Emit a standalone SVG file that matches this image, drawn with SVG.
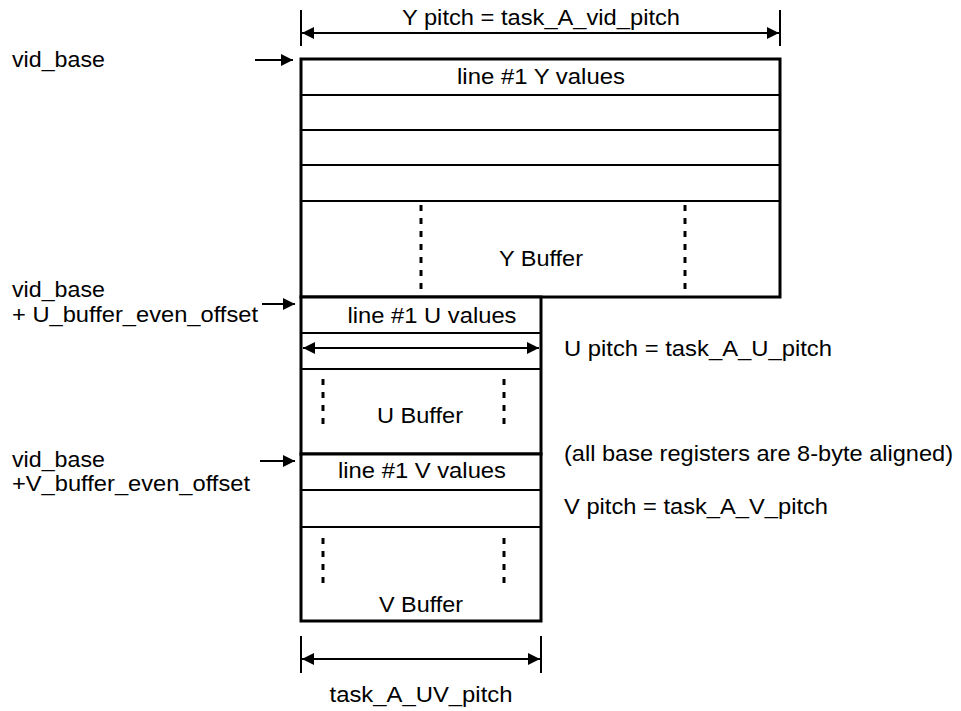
<svg xmlns="http://www.w3.org/2000/svg" width="961" height="711" viewBox="0 0 961 711">
<defs>
<marker id="ah" viewBox="0 0 10 10" refX="10" refY="5" markerWidth="14" markerHeight="12" markerUnits="userSpaceOnUse" orient="auto-start-reverse">
<path d="M0,0 L10,5 L0,10 z" fill="#000"/>
</marker>
<style>
text{font-family:"Liberation Sans",Arial,sans-serif;font-size:22px;fill:#000}
.m{text-anchor:middle}
.box{fill:#fff;stroke:#000;stroke-width:3}
.row{stroke:#000;stroke-width:2;fill:none}
.dot{stroke:#000;stroke-width:3;stroke-dasharray:6 7;fill:none}
.arr{stroke:#000;stroke-width:2;fill:none}
.tick{stroke:#000;stroke-width:2;fill:none}
</style>
</defs>
<rect width="961" height="711" fill="#fff"/>
<g id="ybuffer">
<rect class="box" x="301" y="59" width="479" height="238"/>
<line class="row" x1="301" y1="95" x2="780" y2="95"/>
<line class="row" x1="301" y1="130" x2="780" y2="130"/>
<line class="row" x1="301" y1="165" x2="780" y2="165"/>
<line class="row" x1="301" y1="201" x2="780" y2="201"/>
<line class="dot" x1="421" y1="205" x2="421" y2="292"/>
<line class="dot" x1="685" y1="205" x2="685" y2="292"/>
<text class="m" x="541" y="84" textLength="168" lengthAdjust="spacingAndGlyphs">line #1 Y values</text>
<text class="m" x="541" y="266" textLength="84" lengthAdjust="spacingAndGlyphs">Y Buffer</text>
</g>
<g id="ubuffer">
<rect class="box" x="301" y="297" width="240" height="157"/>
<line class="row" x1="301" y1="333" x2="541" y2="333"/>
<line class="row" x1="301" y1="369" x2="541" y2="369"/>
<line class="dot" x1="323" y1="379" x2="323" y2="426"/>
<line class="dot" x1="504" y1="379" x2="504" y2="426"/>
<text class="m" x="432" y="323" textLength="169" lengthAdjust="spacingAndGlyphs">line #1 U values</text>
<text class="m" x="420" y="423" textLength="86" lengthAdjust="spacingAndGlyphs">U Buffer</text>
</g>
<g id="vbuffer">
<rect class="box" x="301" y="454" width="240" height="167"/>
<line class="row" x1="301" y1="490" x2="541" y2="490"/>
<line class="row" x1="301" y1="527" x2="541" y2="527"/>
<line class="dot" x1="323" y1="538" x2="323" y2="587"/>
<line class="dot" x1="504" y1="538" x2="504" y2="587"/>
<text class="m" x="422" y="478" textLength="168" lengthAdjust="spacingAndGlyphs">line #1 V values</text>
<text class="m" x="421" y="612" textLength="84" lengthAdjust="spacingAndGlyphs">V Buffer</text>
</g>
<g id="labels">
<text x="12" y="67" textLength="93" lengthAdjust="spacingAndGlyphs">vid_base</text>
<text x="12" y="297" textLength="93" lengthAdjust="spacingAndGlyphs">vid_base</text>
<text x="12" y="322" textLength="246" lengthAdjust="spacingAndGlyphs">+ U_buffer_even_offset</text>
<text x="12" y="467" textLength="93" lengthAdjust="spacingAndGlyphs">vid_base</text>
<text x="12" y="491" textLength="238" lengthAdjust="spacingAndGlyphs">+V_buffer_even_offset</text>
<text class="m" x="541" y="25" textLength="278" lengthAdjust="spacingAndGlyphs">Y pitch = task_A_vid_pitch</text>
<text x="564" y="356" textLength="268" lengthAdjust="spacingAndGlyphs">U pitch = task_A_U_pitch</text>
<text x="564" y="461" textLength="389" lengthAdjust="spacingAndGlyphs">(all base registers are 8-byte aligned)</text>
<text x="564" y="514" textLength="264" lengthAdjust="spacingAndGlyphs">V pitch = task_A_V_pitch</text>
<text class="m" x="421" y="702" textLength="183" lengthAdjust="spacingAndGlyphs">task_A_UV_pitch</text>
</g>
<g id="connectors">
<line class="tick" x1="301" y1="10" x2="301" y2="46"/>
<line class="tick" x1="780" y1="10" x2="780" y2="46"/>
<line class="arr" x1="302" y1="33" x2="779" y2="33" marker-start="url(#ah)" marker-end="url(#ah)"/>
<line class="arr" x1="303" y1="348" x2="539" y2="348" marker-start="url(#ah)" marker-end="url(#ah)"/>
<line class="tick" x1="301" y1="636" x2="301" y2="673"/>
<line class="tick" x1="541" y1="636" x2="541" y2="673"/>
<line class="arr" x1="302" y1="659" x2="540" y2="659" marker-start="url(#ah)" marker-end="url(#ah)"/>
<line class="arr" x1="255" y1="60" x2="293" y2="60" marker-end="url(#ah)"/>
<line class="arr" x1="262" y1="304" x2="295" y2="304" marker-end="url(#ah)"/>
<line class="arr" x1="260" y1="461" x2="295" y2="461" marker-end="url(#ah)"/>
</g>
</svg>
